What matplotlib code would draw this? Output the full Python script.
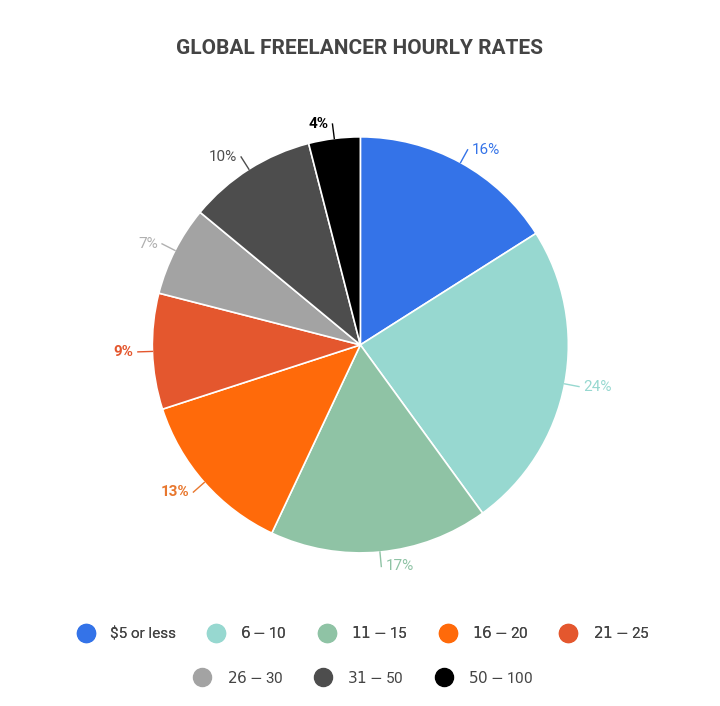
import matplotlib
matplotlib.use("Agg")
import matplotlib.pyplot as plt
import numpy as np
from matplotlib.lines import Line2D

categories = ["$5 or less", "$6-$10", "$11-$15", "$16-$20", "$21-$25", "$26-$30", "$31-$50", "$50-$100"]
values = [16, 24, 17, 13, 9, 7, 10, 4]
colors = ["#3473E8", "#97D8D0", "#8FC3A5", "#FF6A0A", "#E4572E", "#A3A3A3", "#4D4D4D", "#000000"]
label_colors = ["#3473E8", "#97D8D0", "#8FC3A5", "#E8772E", "#E4572E", "#B0B0B0", "#4D4D4D", "#000000"]

plt.rcParams['font.family'] = ['Roboto', 'DejaVu Sans']
fig = plt.figure(figsize=(7.2, 7.06), dpi=100)
ax = fig.add_axes([0.096, 0.099, 0.809, 0.825])
wedges, _ = ax.pie(values, colors=colors, startangle=90, counterclock=False,
                   wedgeprops=dict(edgecolor="white", linewidth=1.2))
ax.set_xlim(-1.4, 1.4); ax.set_ylim(-1.4, 1.4); ax.set_aspect("equal"); ax.axis("off")

for w, v, c in zip(wedges, values, label_colors):
    ang = np.deg2rad((w.theta1 + w.theta2) / 2)
    x0, y0 = np.cos(ang), np.sin(ang)
    x1, y1 = 1.07 * x0, 1.07 * y0
    ha = "left" if x0 > 0 else "right"
    ax.plot([x0, x1], [y0, y1], color=c, lw=1)
    ax.text(x1 + (0.02 if x0 > 0 else -0.02), y1, f"{v}%", color=c, ha=ha, va="center",
            fontsize=11, fontweight="bold" if c in ("#000000", "#E4572E", "#E8772E") else "normal")

fig.text(0.5, 0.932, "GLOBAL FREELANCER HOURLY RATES", ha="center", va="center",
         fontsize=15, fontweight="bold", color="#444444")

def handles(idx):
    return [Line2D([], [], marker="o", ls="", markersize=13, markerfacecolor=colors[i],
                   markeredgecolor=colors[i]) for i in idx]
l1 = fig.legend(handles(range(5)), categories[:5], loc="center", bbox_to_anchor=(0.5, 0.103),
                ncol=5, frameon=False, fontsize=11, handletextpad=0.6, columnspacing=1.6)
fig.add_artist(l1)
fig.legend(handles(range(5, 8)), categories[5:], loc="center", bbox_to_anchor=(0.5, 0.04),
           ncol=3, frameon=False, fontsize=11, handletextpad=0.6, columnspacing=1.6)
for leg in fig.legends:
    for t in leg.get_texts():
        t.set_color("#444444")
fig.savefig("out.png", dpi=100, facecolor="white")
